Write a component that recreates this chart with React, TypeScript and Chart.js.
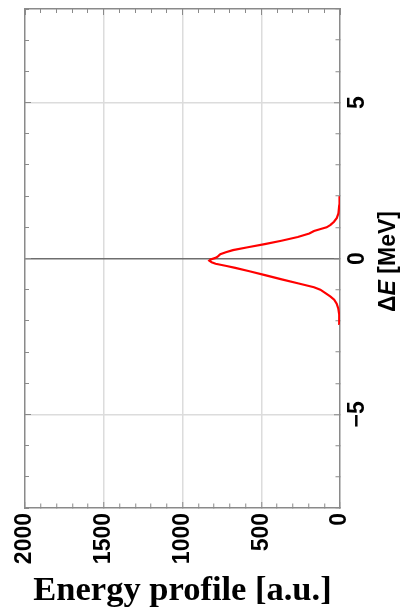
import React, { useEffect, useRef } from 'react';
import { Chart, registerables } from 'chart.js';

Chart.register(...registerables);

// ΔE [MeV] sample positions (ascending) and the energy profile [a.u.] at each
const deltaE = [
  -2.1, -1.8, -1.6, -1.45, -1.32, -1.22, -1.12, -1.0, -0.92, -0.8, -0.67, -0.54, -0.41,
  -0.3, -0.24, -0.17, -0.12, -0.07, -0.03, 0.02, 0.07, 0.14, 0.2, 0.27, 0.36, 0.46, 0.57,
  0.69, 0.8, 0.88, 0.94, 1.0, 1.08, 1.18, 1.3, 1.45, 1.7, 2.0,
];
const profile = [
  3, 5, 11, 21, 37, 60, 90, 125, 165, 262, 370, 470, 575,
  665, 720, 790, 815, 830, 822, 790, 775, 760, 725, 680, 585, 478, 372,
  268, 195, 165, 128, 85, 60, 38, 20, 10, 5, 3,
];

// labelled ticks
const profileLabelTicks = [0, 500, 1000, 1500, 2000];
const energyLabelTicks = [-5, 0, 5];
const profileRange = [0, 2000];
const energyRange = [-8, 8];

const FRAME = '#8a8a8a';
const GRID = '#dcdcdc';
const ZERO = '#6e6e6e';
const SANS = "'Liberation Sans', Arial, sans-serif";
const SERIF = "'Liberation Serif', 'Times New Roman', serif";

const fmt = (v: number) => (v < 0 ? '\u2212' + Math.abs(v) : String(v));

const fixBox = (w: number | null, h: number | null) => (s: any) => {
  if (w !== null) s.width = w;
  if (h !== null) s.height = h;
  s.paddingTop = 0;
  s.paddingBottom = 0;
  s.paddingLeft = 0;
  s.paddingRight = 0;
};

const rightTitle = {
  id: 'rightTitle',
  afterDraw(chart: any) {
    const { ctx, chartArea } = chart;
    const sc = chart.scales.y;
    const size = 23;
    const parts = [
      { t: '\u0394', f: `bold ${size}px ${SANS}` },
      { t: 'E', f: `italic bold ${size}px ${SANS}` },
      { t: ' [MeV]', f: `bold ${size}px ${SANS}` },
    ];
    ctx.save();
    let total = 0;
    const widths = parts.map((p) => {
      ctx.font = p.f;
      const w = ctx.measureText(p.t).width;
      total += w;
      return w;
    });
    ctx.translate(sc.right - 11, (chartArea.top + chartArea.bottom) / 2 + 3);
    ctx.rotate(-Math.PI / 2);
    ctx.textBaseline = 'middle';
    ctx.textAlign = 'left';
    ctx.fillStyle = '#000';
    let x = -total / 2;
    parts.forEach((p, i) => {
      ctx.font = p.f;
      ctx.fillText(p.t, x, 0);
      x += widths[i];
    });
    ctx.restore();
  },
};

export default function App() {
  const ref = useRef<HTMLCanvasElement>(null);

  useEffect(() => {
    const isProfileMajor = (v: number) => v % 500 === 0;
    const isEnergyMajor = (v: number) => v % 5 === 0;
    const font = { family: SANS, weight: 'bold' as const, size: 23 };

    const chart = new Chart(ref.current!, {
      type: 'scatter',
      data: {
        datasets: [
          {
            data: deltaE.map((e, i) => ({ x: profile[i], y: e })),
            showLine: true,
            borderColor: '#ff0000',
            borderWidth: 2.2,
            pointRadius: 0,
            tension: 0,
          },
        ],
      },
      options: {
        animation: false,
        responsive: false,
        devicePixelRatio: 1,
        layout: { padding: 0 },
        plugins: { legend: { display: false }, tooltip: { enabled: false } },
        scales: {
          x: {
            type: 'linear',
            position: 'bottom',
            reverse: true,
            min: profileRange[0],
            max: profileRange[1],
            afterFit: fixBox(null, 100),
            ticks: {
              stepSize: 100,
              autoSkip: false,
              minRotation: 90,
              maxRotation: 90,
              padding: 11,
              color: '#000',
              font,
              callback: (v: any) => (profileLabelTicks.includes(Number(v)) ? fmt(Number(v)) : ''),
            },
            grid: {
              color: (c: any) => {
                const v = c.tick?.value;
                if (v === profileRange[0] || v === profileRange[1]) return 'rgba(0,0,0,0)';
                return isProfileMajor(v) ? GRID : 'rgba(0,0,0,0)';
              },
              lineWidth: 1.5,
              tickLength: -6,
              tickColor: FRAME,
              tickWidth: 1,
              tickBorderDash: (c: any) => (isProfileMajor(c.tick?.value) ? [] : [5, 40]),
            },
            border: { color: FRAME, width: 1.5 },
            title: {
              display: true,
              text: 'Energy profile [a.u.]',
              color: '#000',
              font: { family: SERIF, weight: 'bold', size: 34.5, lineHeight: 1 },
              padding: { top: 0, bottom: 0 },
            },
          },
          x2: {
            type: 'linear',
            position: 'top',
            reverse: true,
            min: profileRange[0],
            max: profileRange[1],
            afterFit: fixBox(null, 9),
            ticks: { stepSize: 100, autoSkip: false, display: false },
            grid: {
              drawOnChartArea: false,
              tickLength: -6,
              tickColor: FRAME,
              tickWidth: 1,
              tickBorderDash: (c: any) => (isProfileMajor(c.tick?.value) ? [] : [5, 2]),
              tickBorderDashOffset: (c: any) => (isProfileMajor(c.tick?.value) ? 0 : 5),
            },
            border: { color: FRAME, width: 1.5 },
          },
          y: {
            type: 'linear',
            position: 'right',
            min: energyRange[0],
            max: energyRange[1],
            afterFit: fixBox(60, null),
            ticks: {
              stepSize: 1,
              autoSkip: false,
              minRotation: 90,
              maxRotation: 90,
              crossAlign: 'center',
              padding: 11,
              color: '#000',
              font,
              callback: (v: any) => (energyLabelTicks.includes(Number(v)) ? fmt(Number(v)) : ''),
            },
            grid: {
              color: (c: any) => {
                const v = c.tick?.value;
                if (v === 0) return ZERO;
                if (v === energyRange[0] || v === energyRange[1]) return 'rgba(0,0,0,0)';
                return isEnergyMajor(v) ? GRID : 'rgba(0,0,0,0)';
              },
              lineWidth: 1.5,
              tickLength: -6,
              tickColor: FRAME,
              tickWidth: 1,
              tickBorderDash: (c: any) => (isEnergyMajor(c.tick?.value) ? [] : [5, 40]),
            },
            border: { color: FRAME, width: 1.5 },
          },
          y2: {
            type: 'linear',
            position: 'left',
            min: energyRange[0],
            max: energyRange[1],
            afterFit: fixBox(25, null),
            ticks: { stepSize: 1, autoSkip: false, display: false },
            grid: {
              drawOnChartArea: false,
              tickLength: -6,
              tickColor: FRAME,
              tickWidth: 1,
              tickBorderDash: (c: any) => (isEnergyMajor(c.tick?.value) ? [] : [5, 2]),
              tickBorderDashOffset: (c: any) => (isEnergyMajor(c.tick?.value) ? 0 : 5),
            },
            border: { color: FRAME, width: 1.5 },
          },
        },
      },
      plugins: [rightTitle],
    } as any);

    return () => chart.destroy();
  }, []);

  return (
    <div style={{ position: 'fixed', left: 0, top: 0, width: 400, height: 608, background: '#fff' }}>
      <canvas ref={ref} width={400} height={608} style={{ display: 'block', width: 400, height: 608 }} />
    </div>
  );
}
